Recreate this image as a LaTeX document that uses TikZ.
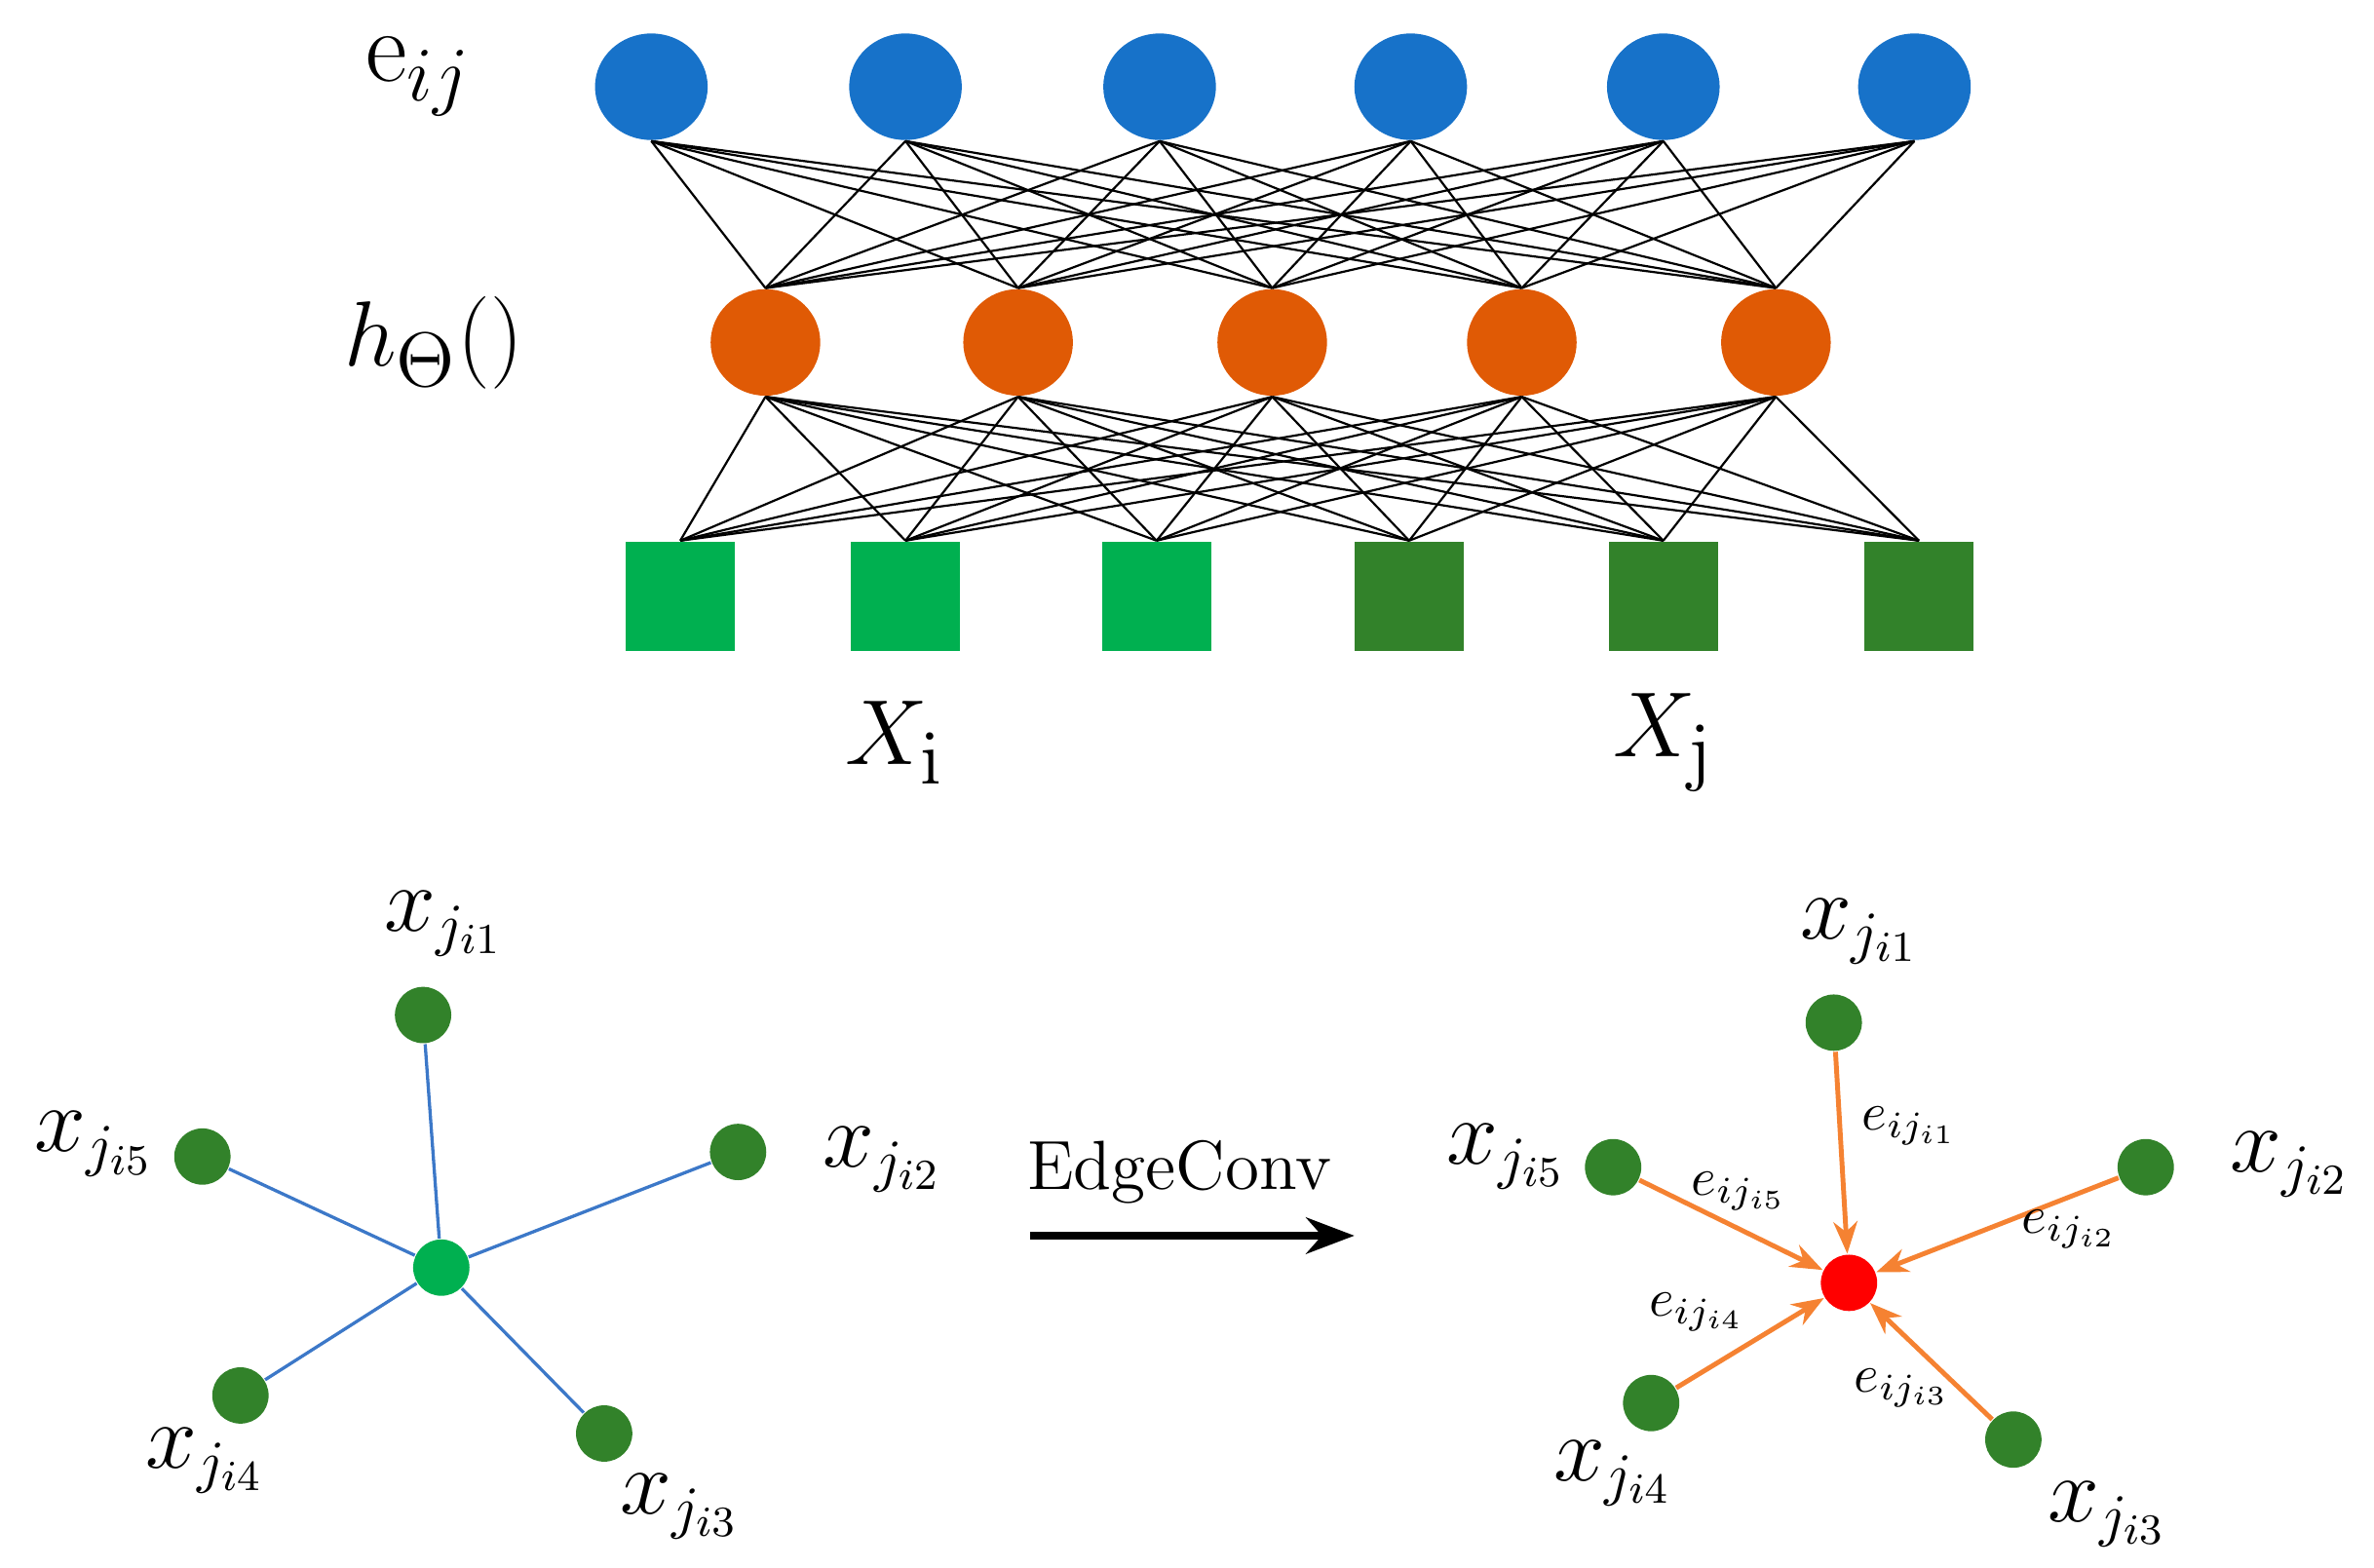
\documentclass[tikz,border=0pt]{standalone}
\usetikzlibrary{arrows.meta,shapes.geometric}
\begin{document}
\begin{tikzpicture}[x=0.01cm,y=-0.01cm,
 bnode/.style={ellipse,draw=none,fill={rgb,255:red,23;green,114;blue,201},minimum width=0.74cm,minimum height=0.70cm,inner sep=0},
 ora/.style={ellipse,fill={rgb,255:red,224;green,90;blue,5},minimum width=0.72cm,minimum height=0.70cm,inner sep=0},
 sq/.style={rectangle,minimum size=0.72cm,inner sep=0},
 lg/.style={fill={rgb,255:red,0;green,176;blue,80}},
 dg/.style={fill={rgb,255:red,50;green,130;blue,42}},
 pt/.style={circle,inner sep=0,minimum size=0.37cm,dg},
 lab/.style={font=\fontsize{16}{18}\selectfont},
 elab/.style={font=\fontsize{10}{12}\selectfont},
 bl/.style={draw={rgb,255:red,60;green,120;blue,200},line width=0.6pt},
 oa/.style={draw={rgb,255:red,245;green,130;blue,50},line width=0.9pt,-{Stealth[length=6pt]}}]
\useasboundingbox (0,0) rectangle (1560,1030);
\foreach \x [count=\i] in {428,595,762,927,1093,1258}{\node[bnode] (b\i) at (\x,57){};}
\foreach \x [count=\i] in {503,669,836,1000,1167}{\node[ora] (o\i) at (\x,225){};}
\foreach \x [count=\i] in {447,595,760}{\node[sq,lg] (s\i) at (\x,392){};}
\foreach \x [count=\i from 4] in {926,1093,1261}{\node[sq,dg] (s\i) at (\x,392){};}
\foreach \i in {1,...,6}{\foreach \j in {1,...,5}{
 \draw[line width=0.4pt] (b\i.south) -- (o\j.north);
 \draw[line width=0.4pt] (o\j.south) -- (s\i.north);}}
\node[font=\fontsize{19}{22}\selectfont] (le) at (275,50) {e$_{ij}$};
\node[font=\fontsize{19}{22}\selectfont] (lh) at (285,225) {$h_\Theta()$};
\node[font=\fontsize{19}{22}\selectfont] (lxi) at (588,488) {$X_{\mathrm{i}}$};
\node[font=\fontsize{19}{22}\selectfont] (lxj) at (1093,488) {$X_{\mathrm{j}}$};
% left graph
\node[circle,inner sep=0,minimum size=0.37cm,lg] (c) at (290,833){};
\node[pt] (p1) at (278,667){};
\node[pt] (p5) at (133,760){};
\node[pt] (p2) at (485,757){};
\node[pt] (p4) at (158,917){};
\node[pt] (p3) at (397,942){};
\foreach \i in {1,...,5}{\draw[bl] (c) -- (p\i);}
\node[lab] at (292,607){$x_{j_{i1}}$};
\node[lab] at (62,752){$x_{j_{i5}}$};
\node[lab] at (580,762){$x_{j_{i2}}$};
\node[lab] at (135,960){$x_{j_{i4}}$};
\node[lab] at (447,990){$x_{j_{i3}}$};
% arrow
\coordinate (a1) at (677,812); \coordinate (a2) at (890,812);
\draw[line width=1.5pt,-{Stealth[length=9pt]}] (a1) -- (a2);
\node[font=\fontsize{13}{16}\selectfont] (ec) at (775,770) {EdgeConv};
% right graph
\node[circle,inner sep=0,minimum size=0.37cm,fill=red] (r) at (1215,843){};
\node[pt] (q1) at (1205,672){};
\node[pt] (q5) at (1060,767){};
\node[pt] (q2) at (1410,767){};
\node[pt] (q4) at (1085,922){};
\node[pt] (q3) at (1323,946){};
\foreach \i in {1,...,5}{\draw[oa] (q\i) -- (r);}
\node[lab] at (1222,612){$x_{j_{i1}}$};
\node[lab] at (990,760){$x_{j_{i5}}$};
\node[lab] at (1505,765){$x_{j_{i2}}$};
\node[lab] at (1060,968){$x_{j_{i4}}$};
\node[lab] at (1385,995){$x_{j_{i3}}$};
\node[elab] at (1255,740){$e_{ij_{i1}}$};
\node[elab] at (1143,783){$e_{ij_{i5}}$};
\node[elab] at (1360,808){$e_{ij_{i2}}$};
\node[elab] at (1115,862){$e_{ij_{i4}}$};
\node[elab] at (1250,912){$e_{ij_{i3}}$};
\end{tikzpicture}
\end{document}
